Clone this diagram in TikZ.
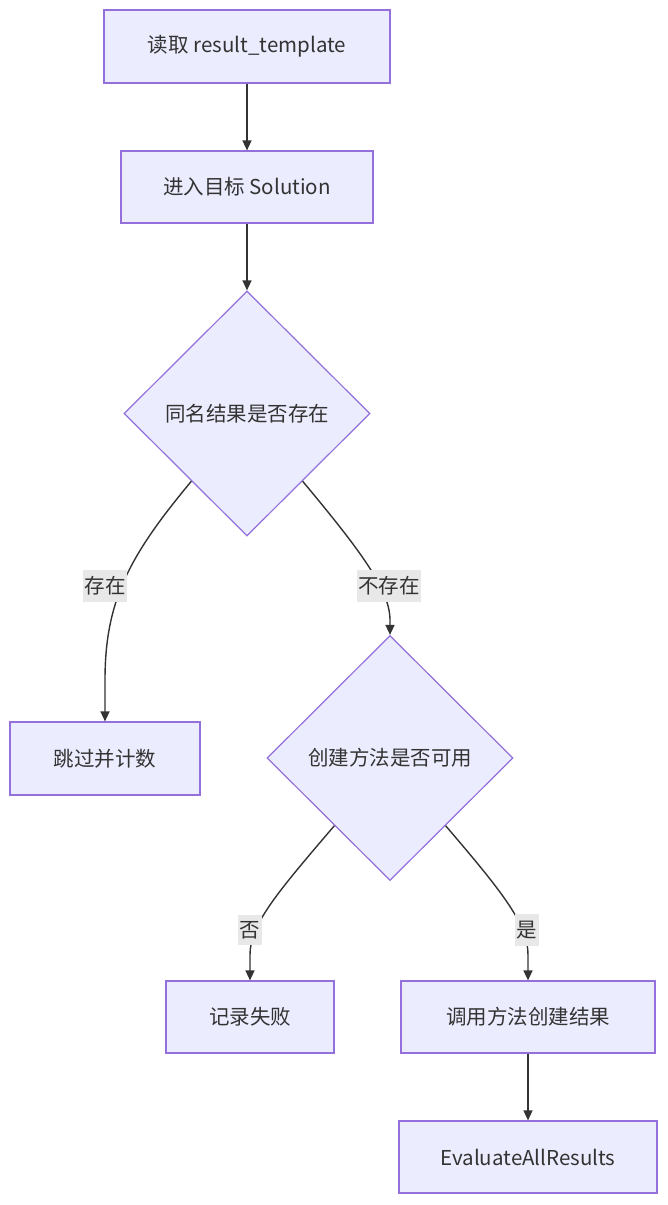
\documentclass[tikz,border=0pt]{standalone}
\usepackage{fontspec}
\setmainfont{Noto Sans CJK SC}
\usetikzlibrary{shapes.geometric,arrows.meta,calc}
\definecolor{nodefill}{HTML}{ECECFF}
\definecolor{nodeline}{HTML}{9370DB}
\definecolor{txt}{HTML}{333333}
\definecolor{lblbg}{HTML}{E8E8E8}
\begin{document}
\begin{tikzpicture}[x=1pt,y=-1pt,
  every node/.style={font=\fontsize{20.5}{24}\selectfont, text=txt},
  box/.style={draw=nodeline, fill=nodefill, line width=1.2pt, rectangle, inner sep=0pt},
  decision/.style={draw=nodeline, fill=nodefill, line width=1.2pt, diamond, inner sep=0pt, minimum width=246pt, minimum height=245pt},
  conn/.style={draw=txt, line width=1.4pt, -{Triangle[length=10pt,width=9pt]}},
  lbl/.style={fill=lblbg, inner xsep=1.5pt, inner ysep=6.5pt}]
\useasboundingbox (0,0) rectangle (668,1205);
\node[box, minimum width=286pt, minimum height=73pt] (n1) at (247,46.5) {读取 result\_template};
\node[box, minimum width=252pt, minimum height=72pt] (n2) at (247,187) {进入目标 Solution};
\node[decision] (d1) at (247,413.5) {同名结果是否存在};
\node[box, minimum width=190pt, minimum height=73pt] (skip) at (105,758.5) {跳过并计数};
\node[decision] (d2) at (390,758) {创建方法是否可用};
\node[box, minimum width=168pt, minimum height=72pt] (fail) at (250,1017) {记录失败};
\node[box, minimum width=254pt, minimum height=72pt] (call) at (528,1017) {调用方法创建结果};
\node[box, minimum width=258pt, minimum height=72pt] (eval) at (528,1157) {EvaluateAllResults};

\draw[conn] (n1) -- (n2);
\draw[conn] (n2) -- (d1);
\draw[conn] ($(d1.south west)!0.1!(d1.south)$) .. controls (130,555) and (105,600) .. (105,680) -- (skip.north);
\draw[conn] ($(d1.south east)!0.1!(d1.south)$) .. controls (360,550) and (390,590) .. (390,620) -- (d2.north);
\draw[conn] ($(d2.south west)!0.1!(d2.south)$) .. controls (275,895) and (250,925) .. (250,955) -- (fail.north);
\draw[conn] ($(d2.south east)!0.1!(d2.south)$) .. controls (505,895) and (528,925) .. (528,955) -- (call.north);
\draw[conn] (call) -- (eval);

\node[lbl] (l1) at (105,586) {存在};
\node[lbl] (l2) at (389,586) {不存在};
\node[lbl] (l3) at (250,930) {否};
\node[lbl] (l4) at (527,930) {是};
\end{tikzpicture}
\end{document}
